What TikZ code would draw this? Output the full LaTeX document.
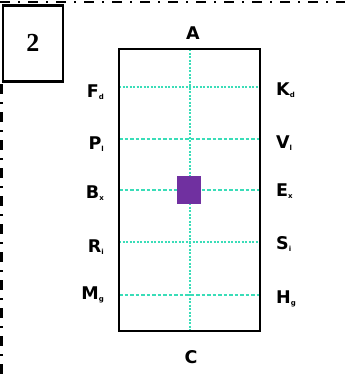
\documentclass[tikz,border=0pt]{standalone}
\usepackage{fontspec}
\setmainfont{DejaVu Sans}[BoldFont={DejaVu Sans Bold}]
\newfontfamily\numfont{Liberation Serif}[BoldFont={Liberation Serif Bold}]
\definecolor{turq}{HTML}{3ADDB8}
\definecolor{purp}{HTML}{7030A0}
\newcommand{\sbs}[1]{\raisebox{-1.5pt}{\fontsize{7}{7}\selectfont\bfseries #1}}
\begin{document}
\begin{tikzpicture}[x=1pt,y=-1pt,
  border/.style={line width=2.6pt,dash pattern=on 10pt off 8pt on 2pt off 8pt},
  gridA/.style={turq,line width=1.2pt,dash pattern=on 2pt off 1.5pt},
  gridB/.style={turq,line width=1.1pt,dash pattern=on 3.5pt off 2pt},
  lab/.style={font=\bfseries\fontsize{17.5}{17.5}\selectfont,inner sep=0pt},
  lleft/.style={lab,anchor=east},
  lright/.style={lab,anchor=west}]
\useasboundingbox (0,0) rectangle (345,375);
% outer dash-dot frame
\coordinate (tl) at (0,2);
\coordinate (tr) at (345,2);
\coordinate (lt) at (1.5,84);
\coordinate (lb) at (1.5,375);
\draw[border] (tl) -- (tr);
\draw[border] (lt) -- (lb);
% number box
\node[draw,line width=2.6pt,fill=white,minimum width=60pt,minimum height=76pt,anchor=north west,
  font=\numfont\bfseries\fontsize{26}{26}\selectfont] (num) at (1.5,4) {2};
% main rectangle
\coordinate (r1) at (119,49);
\coordinate (r2) at (260,331);
% grid lines
\coordinate (vt) at (190,49);
\coordinate (vb) at (190,331);
\draw[gridA] (vt) -- (vb);
\foreach \y/\s in {87/gridA,139/gridB,190/gridB,242/gridA,295/gridB}{
  \draw[\s] (119,\y) -- (260,\y);
}
\draw[line width=1.4pt] (r1) rectangle (r2);
% purple square
\node[fill=purp,minimum width=24pt,minimum height=28pt,inner sep=0pt] (sq) at (189,190) {};
% labels
\node[lab] (A) at (193,33) {A};
\node[lab] (C) at (191,357) {C};
\node[lleft] (Fd) at (104,92) {F\sbs{d}};
\node[lleft] (Pl) at (104,144) {P\sbs{l}};
\node[lleft] (Bx) at (104,193) {B\sbs{x}};
\node[lleft] (Ri) at (104,247) {R\sbs{i}};
\node[lleft] (Mg) at (104,295) {M\sbs{g}};
\node[lright] (Kd) at (276,90) {K\sbs{d}};
\node[lright] (Vl) at (276,143) {V\sbs{l}};
\node[lright] (Ex) at (276,191) {E\sbs{x}};
\node[lright] (Si) at (276,244) {S\sbs{i}};
\node[lright] (Hg) at (276,299) {H\sbs{g}};
\end{tikzpicture}
\end{document}
